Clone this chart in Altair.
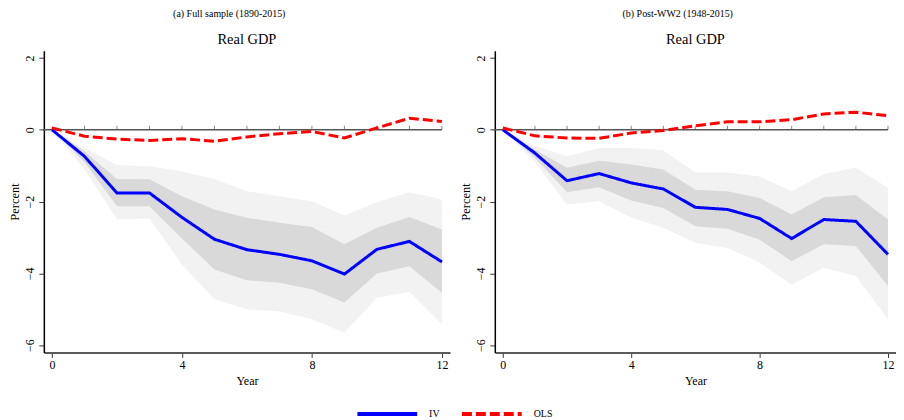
import altair as alt
import pandas as pd

FONT = "Liberation Serif"

years = list(range(13))

# (a) Full sample (1890-2015)
a_iv = [0, -0.74, -1.76, -1.76, -2.44, -3.05, -3.34, -3.47, -3.65, -4.02, -3.33, -3.11, -3.68]
a_dark_hi = [0, -0.60, -1.37, -1.38, -1.85, -2.22, -2.45, -2.59, -2.71, -3.19, -2.73, -2.43, -2.78]
a_dark_lo = [0, -0.90, -2.13, -2.13, -3.03, -3.89, -4.19, -4.26, -4.44, -4.81, -4.00, -3.80, -4.54]
a_light_hi = [0, -0.50, -0.99, -1.02, -1.16, -1.37, -1.71, -1.85, -1.99, -2.39, -2.02, -1.74, -1.94]
a_light_lo = [0, -1.10, -2.50, -2.47, -3.75, -4.72, -5.00, -5.06, -5.28, -5.65, -4.68, -4.51, -5.42]
a_ols = [0.05, -0.18, -0.26, -0.30, -0.25, -0.32, -0.20, -0.11, -0.05, -0.23, 0.05, 0.32, 0.23]

# (b) Post-WW2 (1948-2015)
b_iv = [0, -0.65, -1.42, -1.22, -1.48, -1.65, -2.16, -2.22, -2.47, -3.03, -2.50, -2.55, -3.47]
b_dark_hi = [0, -0.55, -1.06, -0.86, -0.97, -1.11, -1.67, -1.71, -1.90, -2.36, -1.88, -1.82, -2.50]
b_dark_lo = [0, -0.78, -1.74, -1.60, -1.97, -2.18, -2.69, -2.76, -3.06, -3.66, -3.19, -3.24, -4.35]
b_light_hi = [0, -0.45, -0.74, -0.51, -0.51, -0.57, -1.19, -1.19, -1.30, -1.71, -1.23, -1.05, -1.62]
b_light_lo = [0, -0.90, -2.08, -1.99, -2.45, -2.73, -3.15, -3.29, -3.70, -4.32, -3.84, -4.07, -5.28]
b_ols = [0.05, -0.17, -0.23, -0.24, -0.09, -0.02, 0.11, 0.22, 0.22, 0.28, 0.44, 0.49, 0.39]

series_names = ["IV", "OLS"]
series_colors = ["#0000FF", "#FF0000"]
series_dash = [[1, 0], [10, 4]]

x_ticks = [0, 4, 8, 12]
y_ticks = [-6, -4, -2, 0, 2]
x_dom = [-0.25, 12.25]
y_dom = [-6.2, 2.2]


def panel(iv, dhi, dlo, lhi, llo, ols, label, width):
    bands = pd.DataFrame({"year": years, "dhi": dhi, "dlo": dlo, "lhi": lhi, "llo": llo})
    lines = pd.DataFrame({
        "year": years + years,
        "value": iv + ols,
        "series": ["IV"] * len(years) + ["OLS"] * len(years),
    })
    zero = pd.DataFrame({"x": [-0.25], "x2": [12], "y": [0]})
    zticks = pd.DataFrame({"year": years[1:], "y": [0] * (len(years) - 1)})

    xenc = alt.X("year:Q", scale=alt.Scale(domain=x_dom, nice=False, zero=False),
                 axis=alt.Axis(values=x_ticks, title="Year", grid=False, labelFontSize=12,
                               titleFontSize=12, labelFont=FONT, titleFont=FONT,
                               titleFontWeight="normal", domainColor="#5a5a5a", domainWidth=2,
                               tickColor="#333", tickSize=5, labelColor="black", titleColor="black",
                               labelPadding=2, titlePadding=5))
    yscale = alt.Scale(domain=y_dom, nice=False, zero=False)
    yaxis = alt.Axis(values=y_ticks, title="Percent", grid=False, labelAngle=-90,
                     labelFontSize=12, titleFontSize=12.5, labelFont=FONT, titleFont=FONT,
                     titleFontWeight="normal", domainColor="black", domainWidth=1.5,
                     tickColor="#333", tickSize=5, labelColor="black", titleColor="black",
                     labelPadding=2, titlePadding=2.5)

    light = alt.Chart(bands).mark_area(color="#F2F2F2", opacity=1).encode(
        x=xenc, y=alt.Y("llo:Q", scale=yscale, axis=yaxis), y2="lhi:Q")
    dark = alt.Chart(bands).mark_area(color="#D9D9D9", opacity=1).encode(
        x="year:Q", y="dlo:Q", y2="dhi:Q")
    zline = alt.Chart(zero).mark_rule(color="#555555", strokeWidth=1.5).encode(
        x="x:Q", x2="x2:Q", y="y:Q")
    zt = alt.Chart(zticks).mark_tick(color="#555555", orient="vertical", size=4, thickness=1, yOffset=-2).encode(
        x="year:Q", y="y:Q")
    leg = alt.Legend(orient="none", legendX=313, legendY=333, direction="horizontal", title=None,
                     symbolType="stroke", symbolSize=3600, symbolStrokeWidth=4,
                     labelFont=FONT, labelFontSize=10, labelOffset=10, columnPadding=14,
                     labelColor="black")
    ln = alt.Chart(lines).mark_line(strokeWidth=3).encode(
        x="year:Q", y="value:Q",
        color=alt.Color("series:N", scale=alt.Scale(domain=series_names, range=series_colors), legend=leg),
        strokeDash=alt.StrokeDash("series:N", scale=alt.Scale(domain=series_names, range=series_dash), legend=leg),
    )
    inner = alt.layer(light, dark, zline, zt, ln).properties(
        width=width, height=303,
        title=alt.TitleParams("Real GDP", fontSize=14.5, font=FONT, fontWeight="normal",
                              anchor="middle", frame="group", offset=3, color="black"),
    )
    return alt.vconcat(inner, title=alt.TitleParams(label, fontSize=10, font=FONT, fontWeight="normal",
                                                     anchor="middle", frame="bounds", offset=13,
                                                     color="black"))


left = panel(a_iv, a_dark_hi, a_dark_lo, a_light_hi, a_light_lo, a_ols, "(a) Full sample (1890-2015)", 408)
right = panel(b_iv, b_dark_hi, b_dark_lo, b_light_hi, b_light_lo, b_ols, "(b) Post-WW2 (1948-2015)", 403)

chart = alt.hconcat(left, right, spacing=9).properties(padding=0).configure_view(stroke=None)

chart.save("out.html", embed_options={"renderer": "svg", "actions": False})
